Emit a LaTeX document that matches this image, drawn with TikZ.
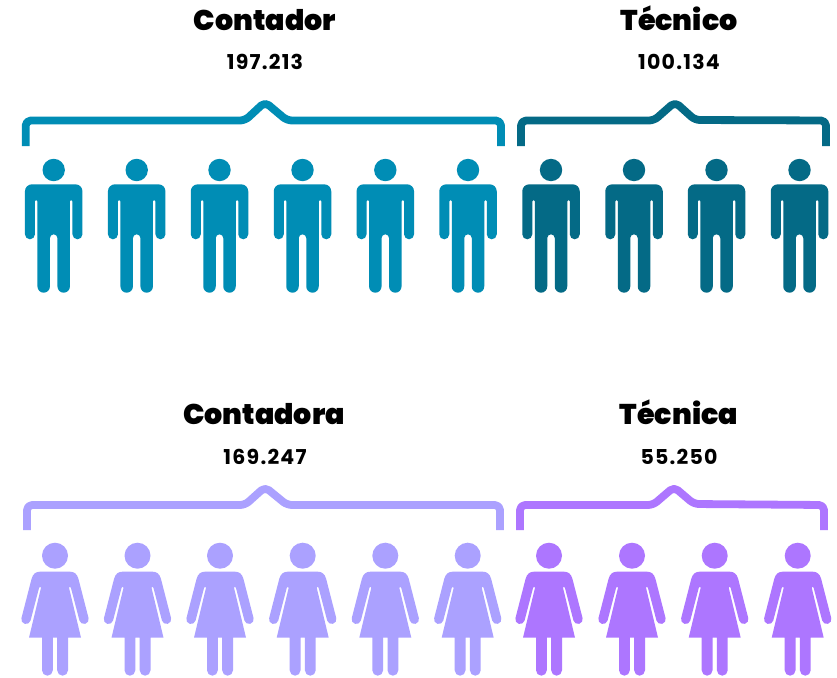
\documentclass[tikz,border=0pt]{standalone}
\usepackage{fontspec}
\setmainfont{Poppins}[UprightFont=* Black,BoldFont=* Bold]
\definecolor{cblue}{HTML}{008DB5}
\definecolor{cteal}{HTML}{046A86}
\definecolor{clav}{HTML}{ABA1FF}
\definecolor{cpur}{HTML}{AD76FF}
\tikzset{
  titlelabel/.style={font=\fontsize{28.5}{30}\selectfont,text=black,inner sep=0pt,anchor=base},
  numlabel/.style={font=\bfseries\fontsize{20.5}{22}\selectfont\addfontfeature{LetterSpace=6},text=black,inner sep=0pt,anchor=base},
  bracket/.style={line width=7.8pt,rounded corners=5pt,line join=round},
  man/.pic={
    \begin{scope}[yscale=-1]
    \fill[pic actions] (0,0) circle (11.2);
    \fill[pic actions] (0,-14.3) -- (21.75,-14.3) arc (90:0:7) -- (28.75,-64.3) arc (0:-180:5)
      -- (18.75,-31.25) arc (0:180:1.25) -- (16.25,-116.45) arc (0:-180:6.25)
      -- (3.75,-68.05) arc (0:180:3.75) -- (-3.75,-116.45) arc (0:-180:6.25)
      -- (-16.25,-31.25) arc (0:180:1.25) -- (-18.75,-64.3) arc (0:-180:5)
      -- (-28.75,-21.3) arc (180:90:7) -- cycle;
    \end{scope}
  },
  woman/.pic={
    \begin{scope}[yscale=-1]
    \fill[pic actions] (0,0) circle (13);
    \fill[pic actions] (0,-16) -- (15,-16) .. controls (19,-16) and (22,-18) .. (23.4,-23)
      -- (33.55,-62.4) arc (14.5:-165.5:4.7)
      -- (15.9,-32) arc (0:180:0.95) -- (26,-82) -- (13,-82) -- (13,-114.6) arc (0:-180:5.4)
      -- (2.2,-82) -- (-2.2,-82) -- (-2.2,-114.6) arc (0:-180:5.4) -- (-13,-82) -- (-26,-82)
      -- (-14,-32) arc (0:180:0.95) -- (-24.45,-64.8) arc (-14.5:-194.5:4.7)
      -- (-23.4,-23) .. controls (-22,-18) and (-19,-16) .. (-15,-16) -- cycle;
    \end{scope}
  }
}
\begin{document}
\begin{tikzpicture}[x=1pt,y=-1pt]
\useasboundingbox (0,0) rectangle (837,677);
\fill[white] (0,0) rectangle (837,677);

\node[titlelabel] (t1) at (265,31) {Contador};
\node[numlabel] (n1) at (265,70) {197.213};
\node[titlelabel] (t2) at (679,31) {Técnico};
\node[numlabel] (n2) at (679,70) {100.134};
\node[titlelabel] (t3) at (264,424) {Contadora};
\node[numlabel] (n3) at (265,464) {169.247};
\node[titlelabel] (t4) at (679,424) {Técnica};
\node[numlabel] (n4) at (679,464) {55.250};

\draw[bracket,cblue] (25.7,146) -- (25.7,120.5) -- (245,120.5) -- (265,102) -- (287,120.5) -- (501,120.5) -- (501,146);
\draw[bracket,cteal] (521,146) -- (521,120.5) -- (654,120.5) -- (675,102) -- (695,120) -- (826,120.5) -- (826,146);
\draw[bracket,clav] (27,530) -- (27,505) -- (245,505) -- (265,487) -- (287,505) -- (500,505) -- (500,530);
\draw[bracket,cpur] (520,530) -- (520,505) -- (653,505) -- (674,487) -- (694,504) -- (824,505) -- (824,530);

\foreach \x in {53.7,136.7,219.5,302.5,385.3,468}
  \pic[fill=cblue] at (\x,170) {man};
\foreach \x in {551,634,716.5,799.5}
  \pic[fill=cteal] at (\x,170) {man};
\foreach \x in {55,137.5,220,302.7,385.3,467.7}
  \pic[fill=clav] at (\x,555.7) {woman};
\foreach \x in {549,632,714.7,797.7}
  \pic[fill=cpur] at (\x,555.7) {woman};
\end{tikzpicture}
\end{document}
